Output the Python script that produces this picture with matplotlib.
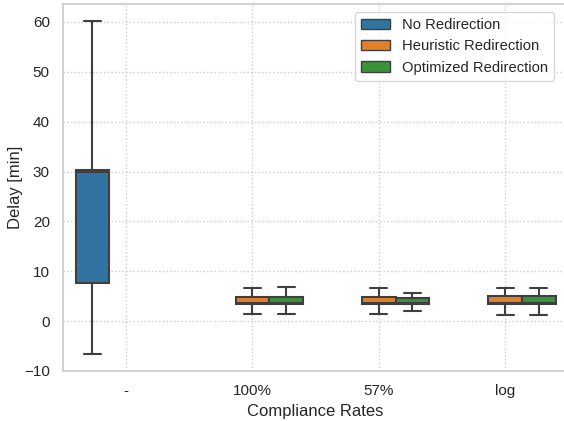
import matplotlib
matplotlib.use("Agg")
import matplotlib.pyplot as plt
from matplotlib.patches import Patch
import seaborn as sns

sns.set_theme(style="whitegrid")
plt.rcParams['font.family'] = ['Liberation Sans', 'DejaVu Sans']

categories = ["-", "100%", "57%", "log"]
hues = ["No Redirection", "Heuristic Redirection", "Optimized Redirection"]
colors = ["#3274a1", "#e1812c", "#3a923a"]

# (category, hue, whislo, q1, med, q3, whishi)
box_cat = [0, 1, 1, 2, 2, 3, 3]
box_hue = [0, 1, 2, 1, 2, 1, 2]
whislo = [-6.6, 1.35, 1.35, 1.35, 1.95, 1.15, 1.15]
q1 = [7.7, 3.4, 3.4, 3.4, 3.4, 3.4, 3.4]
med = [29.9, 3.55, 3.55, 3.55, 3.55, 3.55, 3.55]
q3 = [30.4, 4.9, 4.8, 4.9, 4.55, 5.0, 5.1]
whishi = [60.2, 6.7, 6.9, 6.6, 5.6, 6.7, 6.7]

fig = plt.figure(figsize=(5.64, 4.21), dpi=100)
ax = fig.add_axes([63/564, 1-371/421, 505.3/564, 367/421])

bw = 0.8 / 3
offsets = [-bw, 0.0, bw]
edge = "#3f3f3f"
for i in range(len(box_cat)):
    stats = [dict(whislo=whislo[i], q1=q1[i], med=med[i], q3=q3[i], whishi=whishi[i], fliers=[])]
    pos = box_cat[i] + offsets[box_hue[i]]
    ax.bxp(stats, positions=[pos], widths=bw, capwidths=bw/2, patch_artist=True, showfliers=False,
           boxprops=dict(facecolor=colors[box_hue[i]], edgecolor=edge, linewidth=1.5),
           medianprops=dict(color=edge, linewidth=1.5),
           whiskerprops=dict(color=edge, linewidth=1.5),
           capprops=dict(color=edge, linewidth=1.5), manage_ticks=False)

ax.set_xlim(-0.5, 3.5)
ax.set_ylim(-10, 63.6)
ax.set_xticks(range(len(categories)))
ax.set_xticklabels(categories)
ax.set_yticks(range(-10, 61, 10))
ax.tick_params(labelsize=11)
ax.grid(True, linestyle=":", color="#cccccc", linewidth=1)
ax.set_xlabel("Compliance Rates", fontsize=12)
ax.set_ylabel("Delay [min]", fontsize=12, labelpad=1)
for s in ax.spines.values():
    s.set_color("#cccccc")

handles = [Patch(facecolor=c, edgecolor=edge, label=h) for c, h in zip(colors, hues)]
ax.legend(handles=handles, loc="upper right", borderaxespad=0,
          bbox_to_anchor=((554-63)/505.3, 1-(12-4)/367), fontsize=10.6)

fig.savefig("out.png", dpi=100)
